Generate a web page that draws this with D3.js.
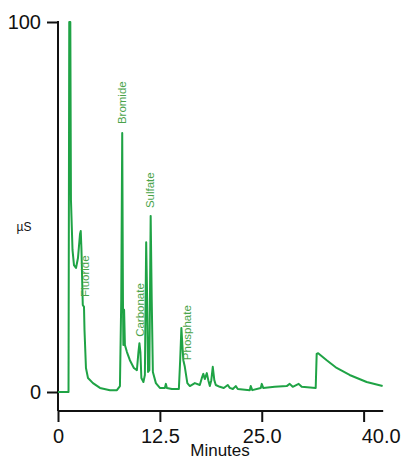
<!DOCTYPE html>
<html>
<head>
<meta charset="utf-8">
<script src="https://cdn.jsdelivr.net/npm/d3@7"></script>
<style>
	body { margin: 0; background: #fff; }
	svg { font-family: 'Liberation Sans', Arial, sans-serif; }
</style>
</head>
<body>
<div id="chart"></div>
<script>
// trace: time (min) and conductivity (µS, % of full scale)
const times = [0, 1.29, 1.38, 1.51, 1.59, 1.78, 1.96, 2.21, 2.45, 2.70, 2.79, 2.88, 2.98, 3.04, 3.19, 3.25, 3.43, 3.68, 4.29, 5.15,
	6.37, 7.23, 7.60, 7.76, 7.88, 7.97, 8.02, 8.11, 8.21, 8.46, 8.82, 9.31, 9.68, 9.87, 9.99, 10.11, 10.23, 10.48, 10.66, 10.82,
	10.94, 11.05, 11.21, 11.37, 11.50, 11.64, 12.01, 12.50, 13.11, 13.24, 13.36, 13.97, 14.83, 14.99, 15.14, 15.26, 15.38, 15.56, 15.87, 16.18,
	16.79, 17.40, 17.65, 17.83, 18.01, 18.26, 18.44, 18.63, 18.81, 18.99, 19.18, 19.36, 19.85, 20.34, 20.83, 21.08, 21.45, 21.81, 22.06, 23.53,
	23.65, 23.84, 24.88, 25.0, 25.18, 26.59, 28.06, 28.43, 28.80, 29.53, 29.90, 31.62, 31.74, 31.92, 32.97, 34.19, 35.78, 37.87, 39.83]
const signal = [0, 0, 100, 100, 51.9, 38.4, 34.3, 33.5, 36.2, 42.7, 43.5, 38.4, 28.9, 23.5, 23.0, 16.8, 6.5, 3.8, 2.4, 1.1,
	0.5, 0.5, 1.6, 24.9, 70.0, 24.9, 12.7, 22.2, 12.7, 10.8, 8.6, 6.5, 5.9, 10.8, 13.2, 10.8, 3.8, 2.7, 4.6, 40.5,
	24.9, 5.4, 5.9, 47.6, 24.9, 5.4, 2.4, 1.1, 1.1, 2.2, 1.1, 0.8, 0.8, 8.6, 17.3, 12.7, 8.6, 6.8, 2.4, 1.6,
	2.4, 1.9, 3.8, 4.9, 3.5, 5.1, 3.2, 1.6, 3.2, 6.8, 3.2, 1.9, 1.4, 1.1, 1.9, 1.1, 0.8, 1.6, 0.8, 0.5,
	1.6, 0.5, 1.1, 2.2, 1.1, 1.4, 1.6, 2.2, 1.4, 2.2, 1.4, 1.1, 10.3, 10.5, 8.6, 6.5, 4.6, 2.7, 1.6]

// peak labels
const peakNames = ['Fluoride', 'Bromide', 'Carbonate', 'Sulfate', 'Phosphate']
const peakTimes = [3.37, 7.90, 10.05, 11.27, 15.81]
const peakValues = [25.7, 72.4, 14.9, 49.7, 8.6]

const xTicks = [0, 12.5, 25, 37.5]
const xTickLabels = ['0', '12.5', '25.0', '40.0']
const yTicks = [0, 100]

const width = 402, height = 460
const margin = { top: 22, right: 18, bottom: 68, left: 58 }

let svg = d3.select('#chart')
	.append('svg')
	.attr('width', width)
	.attr('height', height)

let xScale = d3.scaleLinear()
	.domain([0, 40])
	.range([margin.left, width - margin.right])

let yScale = d3.scaleLinear()
	.domain([0, 100])
	.range([height - margin.bottom, margin.top])

const axisY = 411

// x axis
let gx = svg.append('g')
	.attr('transform', `translate(0,${axisY})`)
	.call(d3.axisBottom(xScale)
		.tickValues(xTicks)
		.tickSize(11)
		.tickSizeOuter(0)
		.tickFormat((d, i) => xTickLabels[i]))
gx.select('.domain').attr('stroke', '#111').attr('stroke-width', 2)
	.attr('d', `M${xScale(0)},0H${xScale(39.9)}`)
gx.selectAll('.tick line').attr('stroke', '#111').attr('stroke-width', 2)
gx.selectAll('.tick text')
	.attr('fill', '#111')
	.style('font-size', '20px')
	.attr('y', 18)
	.attr('dy', '0.71em')
	.attr('dx', (d, i) => i == xTicks.length - 1 ? 17 : 0)

// y axis
let gy = svg.append('g')
	.attr('transform', `translate(${margin.left},0)`)
	.call(d3.axisLeft(yScale)
		.tickValues(yTicks)
		.tickSize(11)
		.tickSizeOuter(0))
gy.select('.domain').attr('stroke', '#111').attr('stroke-width', 2)
	.attr('d', `M0,${yScale(100) - 1}V${axisY}`)
gy.selectAll('.tick line').attr('stroke', '#111').attr('stroke-width', 2)
gy.selectAll('.tick text')
	.attr('fill', '#111')
	.style('font-size', '20px')
	.attr('x', -17)

svg.append('text')
	.attr('x', 24)
	.attr('y', 231)
	.attr('text-anchor', 'middle')
	.attr('fill', '#111')
	.style('font-size', '12px')
	.text('µS')

svg.append('text')
	.attr('x', 220)
	.attr('y', 456)
	.attr('text-anchor', 'middle')
	.attr('fill', '#111')
	.style('font-size', '17px')
	.text('Minutes')

// trace
let line = d3.line()
	.x(d => xScale(d[0]))
	.y(d => yScale(d[1]))

svg.append('path')
	.datum(d3.zip(times, signal))
	.attr('d', line)
	.attr('fill', 'none')
	.attr('stroke', '#1fa345')
	.attr('stroke-width', 2)
	.attr('stroke-linejoin', 'round')

svg.selectAll('.peak')
	.data(peakNames)
	.join('text')
	.attr('class', 'peak')
	.attr('transform', (d, i) => `translate(${xScale(peakTimes[i])},${yScale(peakValues[i])}) rotate(-90)`)
	.attr('dy', '0.35em')
	.attr('fill', '#4aa34a')
	.style('font-size', '11.5px')
	.text(d => d)
</script>
</body>
</html>
